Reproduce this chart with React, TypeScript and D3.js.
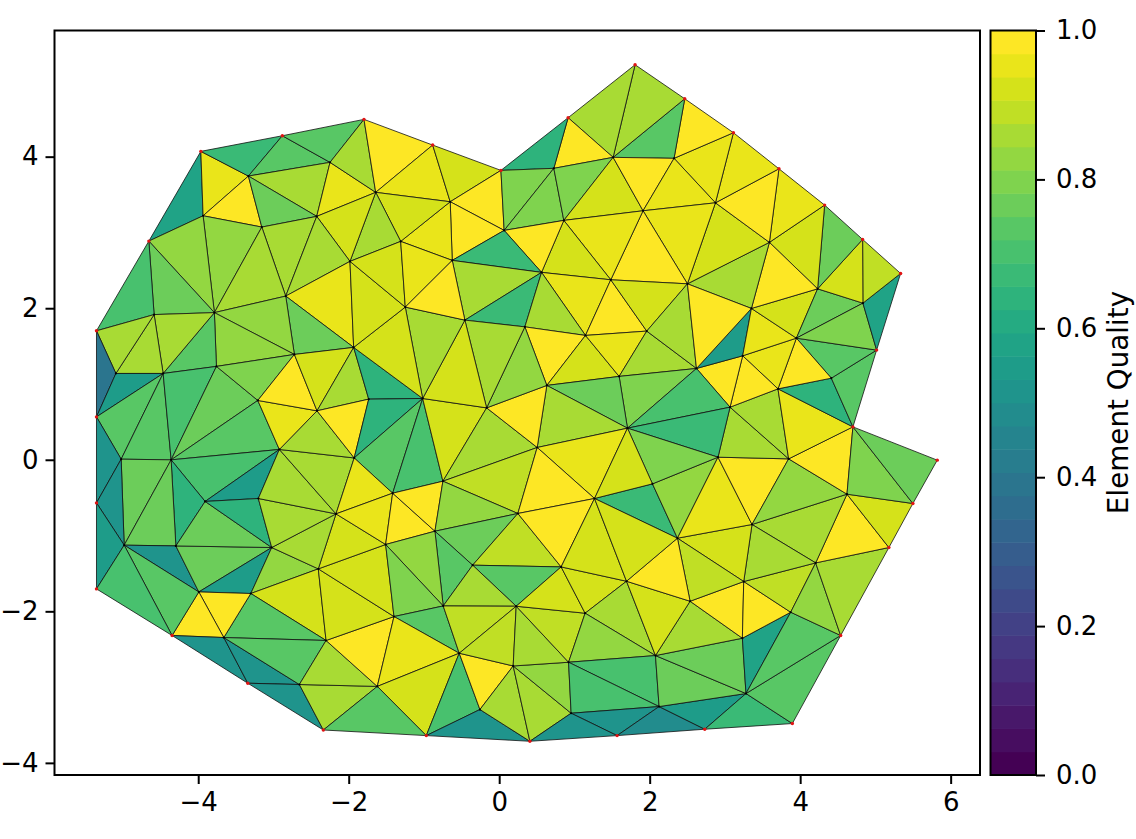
import React, { useEffect, useRef } from 'react';
import * as d3 from 'd3';

// mesh nodes, first 32 are the boundary
const nodeX = [
  -5.352, -4.656, -3.965, -2.882, -1.797, -0.884, 0.023, 0.916, 1.806, 2.466, 3.113, 3.718, 4.325, 4.83, 5.335, 5.016,
  4.701, 5.822, 5.498, 5.179, 4.538, 3.896, 2.732, 1.567, 0.408, -0.969, -2.337, -3.341, -4.347, -5.352, -5.352, -5.352,
  -3.333, -2.248, -1.641, -3.935, -3.155, -2.425, -1.983, -3.785, -2.837, -4.586, -0.651, 0.066, 0.726, 1.514, 0.859, 1.912,
  -1.309, -0.624, 0.563, 1.483, -1.248, -0.456, 2.324, 2.874, 3.591, 2.502, 4.232, 4.834, 3.352, 0.341, 1.147, 1.961,
  -5.094, -4.466, -3.758, -2.722, -1.934, -3.208, -2.421, -1.734, -1.017, -0.167, 0.633, 1.594, 2.622, 3.236, 3.95, 3.705,
  4.414, 3.068, -5.024, -4.36, -2.922, -1.927, -3.908, -3.201, -2.169, -0.748, -1.416, 0.505, 1.705, 1.267, 0.248, -0.854,
  2.908, 3.847, 2.037, 4.622, 3.36, 2.369, -4.984, -4.297, -3.023, -2.404, -1.509, -3.992, -3.301, -2.301, -3.66, -2.656,
  -1.62, -1.398, -0.744, -0.353, 0.823, 1.692, 0.226, 1.142, -0.531, 0.186, 0.922, -0.256, 0.956, 4.206, 3.25, 2.537,
  3.874, 3.232, 2.077, 3.28, 2.125,
];
const nodeY = [
  1.702, 2.886, 4.07, 4.276, 4.492, 4.153, 3.819, 4.514, 5.213, 4.764, 4.316, 3.84, 3.361, 2.908, 2.459, 1.447,
  0.434, -0.005, -0.577, -1.158, -2.319, -3.481, -3.556, -3.64, -3.715, -3.64, -3.566, -2.949, -2.319, -1.704, -0.569, 0.566,
  3.744, 3.925, 3.529, 3.22, 3.071, 3.212, 2.618, 1.942, 2.16, 1.916, 3.405, 3.027, 3.846, 3.991, 3.159, 3.286,
  2.882, 2.631, 2.473, 2.375, 2.015, 1.843, 3.978, 3.391, 2.869, 2.322, 2.256, 2.067, 1.997, 1.754, 1.641, 1.698,
  1.139, 1.139, 1.232, 1.39, 1.483, 0.783, 0.646, 0.8, 0.809, 0.685, 0.981, 1.1, 1.205, 1.372, 1.605, 0.936,
  1.077, 0.694, 0.008, -0.001, 0.136, 0.024, -0.55, -0.511, -0.714, -0.283, -0.441, 0.162, 0.417, -0.511, -0.709, -0.943,
  0.034, 0.012, -0.318, -0.454, -0.854, -1.035, -1.127, -1.137, -1.158, -1.44, -1.118, -1.744, -1.765, -2.385, -2.346, -2.966,
  -2.991, -2.069, -1.929, -1.391, -1.414, -1.603, -1.933, -2.025, -2.553, -2.721, -2.672, -3.296, -3.345, -1.361, -1.607, -1.867,
  -2.012, -2.355, -2.584, -3.085, -3.257,
];
const boundaryCount = 32;

// node triples, same order as quality below
const triangles: [number, number, number][] = [
  [1,2,35],[2,32,35],[32,36,35],[2,3,32],[3,33,32],[3,4,33],[32,33,37],[32,37,36],[33,34,37],[33,4,34],
  [4,5,34],[34,5,42],[5,6,42],[6,43,42],[42,43,49],[42,49,48],[34,42,48],[34,48,38],[37,34,38],[36,37,40],
  [37,38,40],[35,36,39],[36,40,39],[1,35,39],[1,39,41],[0,1,41],[40,38,68],[40,68,67],[39,40,67],[39,67,66],
  [39,66,65],[41,39,65],[41,65,64],[0,41,64],[0,64,31],[64,65,31],[31,65,82],[65,83,82],[65,66,83],[66,69,83],
  [66,67,69],[69,84,83],[83,84,86],[84,87,86],[83,86,103],[82,83,102],[83,103,102],[31,82,30],[30,82,102],[30,102,29],
  [102,103,107],[103,104,107],[86,104,103],[86,87,104],[107,108,104],[104,105,108],[105,109,108],[108,109,110],[107,110,108],[107,28,110],
  [102,28,107],[29,102,28],[28,27,110],[110,27,111],[110,111,109],[27,26,111],[111,26,112],[109,111,112],[109,113,112],[105,113,109],
  [105,106,113],[88,106,105],[88,104,105],[87,88,104],[84,88,87],[84,85,88],[70,85,84],[69,70,84],[67,70,69],[67,68,70],
  [68,71,70],[70,71,85],[68,72,71],[71,72,85],[85,72,90],[72,89,90],[85,90,88],[88,90,106],[90,95,106],[90,89,95],
  [72,73,89],[73,91,89],[89,91,94],[89,94,95],[95,94,115],[95,115,114],[94,116,115],[115,116,118],[115,118,114],[106,95,114],
  [106,114,113],[114,120,113],[113,120,112],[112,120,25],[120,123,25],[112,25,26],[123,24,25],[120,121,123],[123,121,24],[121,124,24],
  [121,122,124],[114,118,120],[118,121,120],[118,122,121],[118,119,122],[116,119,118],[116,117,119],[117,130,119],[119,130,122],[122,130,132],
  [122,132,124],[124,132,23],[24,124,23],[23,132,22],[132,131,22],[22,131,21],[131,20,21],[130,131,132],[130,129,131],[129,128,131],
  [128,20,131],[127,129,130],[117,127,130],[127,126,129],[126,128,129],[126,125,128],[125,20,128],[125,19,20],[99,19,125],[99,18,19],
  [100,99,125],[100,125,126],[100,126,101],[101,126,127],[101,127,117],[93,98,101],[98,96,101],[96,100,101],[96,97,100],[97,99,100],
  [97,16,99],[16,18,99],[16,17,18],[81,97,96],[81,79,97],[79,16,97],[79,80,16],[80,15,16],[78,15,80],[78,80,79],
  [77,78,79],[77,79,81],[76,77,81],[76,60,77],[60,78,77],[60,58,78],[58,59,78],[59,15,78],[59,14,15],[13,14,59],
  [13,59,58],[12,13,58],[56,12,58],[56,58,60],[57,56,60],[55,56,57],[11,12,56],[55,11,56],[10,11,55],[54,10,55],
  [9,10,54],[45,9,54],[8,9,45],[7,8,45],[7,45,44],[6,7,44],[6,44,43],[43,44,46],[44,45,46],[45,47,46],
  [45,54,47],[54,55,47],[47,55,57],[47,57,51],[46,47,51],[46,51,50],[43,46,50],[43,50,49],[49,50,53],[50,61,53],
  [50,51,62],[51,63,62],[51,57,63],[50,62,61],[61,74,62],[74,75,62],[62,75,63],[63,75,76],[57,76,63],[57,60,76],
  [75,76,92],[76,81,92],[92,81,96],[92,96,98],[74,75,92],[74,92,91],[73,74,91],[61,74,73],[53,61,73],[53,73,72],
  [52,53,72],[68,52,72],[38,52,68],[38,48,52],[48,49,52],[49,53,52],[91,92,93],[92,98,93],[91,93,94],[94,93,116],
  [93,117,116],[93,101,117],
];
const quality = [
  0.58,0.96,0.99,0.66,0.74,0.73,0.87,0.76,0.95,0.85,
  0.99,0.96,0.91,0.99,0.99,0.95,0.93,0.86,0.92,0.85,
  0.85,0.82,0.86,0.83,0.75,0.71,0.96,0.78,0.82,0.82,
  0.74,0.87,0.87,0.87,0.38,0.56,0.73,0.74,0.71,0.75,
  0.8,0.74,0.7,0.55,0.63,0.75,0.76,0.5,0.52,0.54,
  0.52,0.76,0.76,0.63,0.54,0.82,0.93,0.73,0.99,0.98,
  0.72,0.71,0.51,0.51,0.72,0.51,0.85,0.85,0.99,0.93,
  0.93,0.93,0.85,0.87,0.87,0.86,0.87,0.96,0.99,0.92,
  0.85,0.99,0.65,0.65,0.72,0.69,0.96,0.94,0.98,0.99,
  0.93,0.87,0.88,0.84,0.78,0.74,0.9,0.74,0.87,0.84,
  0.8,0.73,0.96,0.92,0.71,0.73,0.52,0.98,0.87,0.86,
  0.83,0.88,0.88,0.87,0.9,0.92,0.91,0.85,0.82,0.71,
  0.7,0.5,0.5,0.49,0.56,0.66,0.73,0.77,0.77,0.57,
  0.73,0.87,0.92,0.99,0.99,0.88,0.83,0.87,0.99,0.92,
  0.86,0.87,0.93,0.88,0.99,0.67,0.82,0.95,0.99,0.83,
  0.99,0.79,0.75,0.86,0.86,0.95,0.65,0.72,0.74,0.99,
  0.96,0.98,0.99,0.55,0.96,0.91,0.77,0.8,0.58,0.9,
  0.93,0.78,0.93,0.98,0.87,0.93,0.95,0.98,0.95,0.95,
  0.99,0.74,0.87,0.86,0.99,0.63,0.81,0.81,0.81,0.92,
  0.99,0.96,0.96,0.99,0.96,0.93,0.98,0.67,0.87,0.66,
  0.96,0.99,0.92,0.87,0.99,0.92,0.96,0.87,0.86,0.98,
  0.79,0.69,0.68,0.79,0.77,0.85,0.99,0.82,0.87,0.93,
  0.86,0.93,0.93,0.93,0.96,0.99,0.96,0.93,0.99,0.99,
  0.93,0.93,
];

const xTicks = [-4, -2, 0, 2, 4, 6];
const yTicks = [-4, -2, 0, 2, 4];
const qualityTicks = [0, 0.2, 0.4, 0.6, 0.8, 1];
const levels = 32;

const fontFamily = '"DejaVu Sans", sans-serif';
const tickFont = 26;

const App = () => {
  const svgRef = useRef<SVGSVGElement>(null);

  useEffect(() => {
    const svg = d3.select(svgRef.current);
    svg.selectAll('*').remove();

    const box = { left: 54.5, right: 980, top: 30.5, bottom: 775 };
    const x = d3.scaleLinear().domain([-5.91, 6.39]).range([box.left, box.right]);
    const y = d3.scaleLinear().domain([-4.16, 5.665]).range([box.bottom, box.top]);
    const bar = { left: 990.5, right: 1036 };
    const q = d3.scaleLinear().domain([0, 1]).range([box.bottom, box.top]);

    // discrete viridis, one colour per level
    const color = (v: number) =>
      d3.interpolateViridis(Math.min(levels - 1, Math.floor(v * levels)) / (levels - 1));

    const line = d3.line<number>().x(i => x(nodeX[i])).y(i => y(nodeY[i])).curve(d3.curveLinearClosed);

    svg.append('g')
      .selectAll('path')
      .data(triangles)
      .join('path')
      .attr('d', d => line(d))
      .attr('fill', (d, i) => color(quality[i]))
      .attr('stroke', '#111')
      .attr('stroke-width', 0.8)
      .attr('stroke-linejoin', 'round');

    svg.append('g')
      .selectAll('circle')
      .data(d3.range(nodeX.length))
      .join('circle')
      .attr('cx', i => x(nodeX[i]))
      .attr('cy', i => y(nodeY[i]))
      .attr('r', i => (i < boundaryCount ? 1.7 : 1.1))
      .attr('fill', i => (i < boundaryCount ? '#e01414' : '#000'));

    svg.append('rect')
      .attr('x', box.left).attr('y', box.top)
      .attr('width', box.right - box.left).attr('height', box.bottom - box.top)
      .attr('fill', 'none').attr('stroke', '#000').attr('stroke-width', 2);

    const styleAxis = (g: any) => {
      g.select('.domain').remove();
      g.selectAll('line').attr('stroke', '#000').attr('stroke-width', 2);
      g.selectAll('text').attr('fill', '#000').style('font-family', fontFamily).style('font-size', tickFont + 'px');
    };

    svg.append('g')
      .attr('transform', `translate(0,${box.bottom})`)
      .call(d3.axisBottom(x).tickValues(xTicks).tickFormat(d3.format('d') as any).tickSize(9).tickPadding(9))
      .call(styleAxis);

    svg.append('g')
      .attr('transform', `translate(${box.left},0)`)
      .call(d3.axisLeft(y).tickValues(yTicks).tickFormat(d3.format('d') as any).tickSize(9).tickPadding(7))
      .call(styleAxis);

    // colorbar
    const bandH = (box.bottom - box.top) / levels;
    svg.append('g')
      .selectAll('rect')
      .data(d3.range(levels))
      .join('rect')
      .attr('x', bar.left)
      .attr('y', i => q((i + 1) / levels))
      .attr('width', bar.right - bar.left)
      .attr('height', bandH + 0.5)
      .attr('fill', i => d3.interpolateViridis(i / (levels - 1)));

    svg.append('rect')
      .attr('x', bar.left).attr('y', box.top)
      .attr('width', bar.right - bar.left).attr('height', box.bottom - box.top)
      .attr('fill', 'none').attr('stroke', '#000').attr('stroke-width', 2);

    svg.append('g')
      .attr('transform', `translate(${bar.right},0)`)
      .call(d3.axisRight(q).tickValues(qualityTicks).tickFormat(d3.format('.1f') as any).tickSize(9).tickPadding(11))
      .call(styleAxis);

    svg.append('text')
      .attr('transform', 'translate(1120,402.5) rotate(-90)')
      .attr('text-anchor', 'middle')
      .attr('dominant-baseline', 'middle')
      .style('font-family', fontFamily)
      .style('font-size', '27.8px')
      .text('Element Quality');
  }, []);

  return (
    <svg
      ref={svgRef}
      width={1136}
      height={839}
      style={{ position: 'absolute', left: 0, top: 0, background: '#fff' }}
    />
  );
};

export default App;
